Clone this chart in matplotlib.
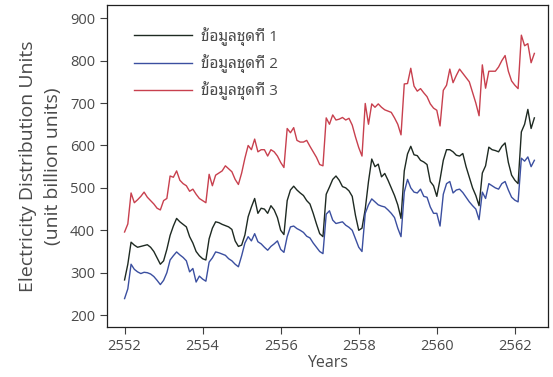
import numpy as np
import matplotlib
matplotlib.use("Agg")
import matplotlib.pyplot as plt

plt.rcParams['font.family'] = ['Open Sans', 'Noto Sans Thai Looped', 'DejaVu Sans']

# monthly values, starting Jan 2552
series_1 = [283, 320, 372, 365, 360, 362, 364, 366, 360, 350, 335, 320,
            328, 355, 388, 410, 428, 420, 414, 408, 385, 370, 350, 340,
            333, 330, 380, 405, 420, 418, 414, 411, 408, 402, 375, 362,
            365, 389, 432, 455, 475, 440, 452, 450, 440, 458, 448, 430,
            400, 390, 470, 495, 504, 495, 488, 482, 470, 462, 440, 415,
            392, 385, 485, 502, 520, 528, 518, 503, 500, 493, 480, 435,
            400, 405, 450, 515, 568, 550, 556, 526, 534, 518, 500, 482,
            460, 428, 540, 580, 598, 578, 576, 565, 561, 555, 515, 505,
            480, 520, 565, 590, 590, 585, 577, 575, 581, 550, 525, 500,
            482, 458, 535, 552, 596, 590, 588, 585, 598, 606, 560, 530,
            518, 510, 632, 650, 685, 640, 665]
series_2 = [239, 262, 320, 308, 302, 298, 301, 300, 297, 291, 282, 272,
            282, 300, 330, 340, 349, 342, 336, 328, 302, 310, 278, 292,
            285, 280, 325, 335, 349, 347, 344, 341, 333, 328, 320, 314,
            340, 370, 385, 375, 392, 373, 368, 360, 353, 362, 368, 375,
            355, 348, 385, 408, 410, 404, 400, 395, 386, 382, 370, 360,
            350, 345, 438, 446, 424, 416, 418, 420, 412, 407, 400, 380,
            360, 350, 440, 460, 474, 467, 460, 457, 455, 448, 440, 430,
            405, 385, 490, 520, 500, 490, 488, 497, 480, 478, 455, 440,
            440, 410, 485, 510, 515, 488, 495, 497, 489, 478, 467, 458,
            450, 425, 490, 475, 510, 505, 500, 497, 510, 515, 495, 478,
            471, 467, 570, 563, 573, 550, 565]
series_3 = [396, 415, 488, 465, 472, 480, 490, 478, 470, 462, 452, 448,
            470, 475, 528, 525, 540, 518, 510, 505, 492, 497, 485, 475,
            470, 465, 532, 505, 530, 535, 540, 552, 545, 538, 520, 508,
            535, 570, 600, 590, 615, 585, 590, 590, 575, 590, 585, 575,
            560, 548, 640, 630, 642, 612, 608, 608, 612, 598, 585, 572,
            555, 552, 665, 650, 672, 660, 662, 666, 660, 664, 648, 620,
            595, 575, 699, 650, 698, 690, 698, 690, 684, 681, 678, 665,
            650, 625, 745, 746, 782, 740, 728, 734, 724, 715, 698, 688,
            683, 646, 730, 742, 780, 748, 765, 780, 770, 760, 750, 725,
            700, 670, 790, 735, 775, 775, 775, 785, 800, 812, 775, 752,
            742, 734, 860, 835, 840, 795, 817]
labels = ['ข้อมูลชุดที่ 1', 'ข้อมูลชุดที่ 2', 'ข้อมูลชุดที่ 3']

years = 2552 + np.arange(len(series_1)) / 12.0

text_col = '#4a4a4a'
fig = plt.figure(figsize=(5.53, 3.77), dpi=100)
ax = fig.add_axes([0.1935, 0.1326, 0.7975, 0.854])

ax.plot(years, series_1, color='#1e2a22', lw=1.0, label=labels[0])
ax.plot(years, series_2, color='#3b4fa0', lw=1.0, label=labels[1])
ax.plot(years, series_3, color='#c8404e', lw=1.0, label=labels[2])

ax.set_xlim(2551.55, 2562.85)
ax.set_ylim(172, 931)
ax.set_xticks(range(2552, 2563, 2))
ax.set_yticks(range(200, 901, 100))
ax.tick_params(labelsize=10.5, labelcolor=text_col, color='#404040', length=5, width=0.8)
for s in ax.spines.values():
    s.set_color('#202020')
    s.set_linewidth(0.9)

ax.set_xlabel('Years', fontsize=11.5, color=text_col, labelpad=1)
ax.set_ylabel('Electricity Distribution Units\n(unit billion units)', fontsize=14,
              color=text_col, labelpad=6, linespacing=1.45)

leg = ax.legend(loc='upper left', bbox_to_anchor=(0.03, 0.975), frameon=False,
                fontsize=11, handlelength=3.8, handletextpad=0.6, labelspacing=0.55)
for t in leg.get_texts():
    t.set_color(text_col)

fig.savefig('out.png', dpi=100)
